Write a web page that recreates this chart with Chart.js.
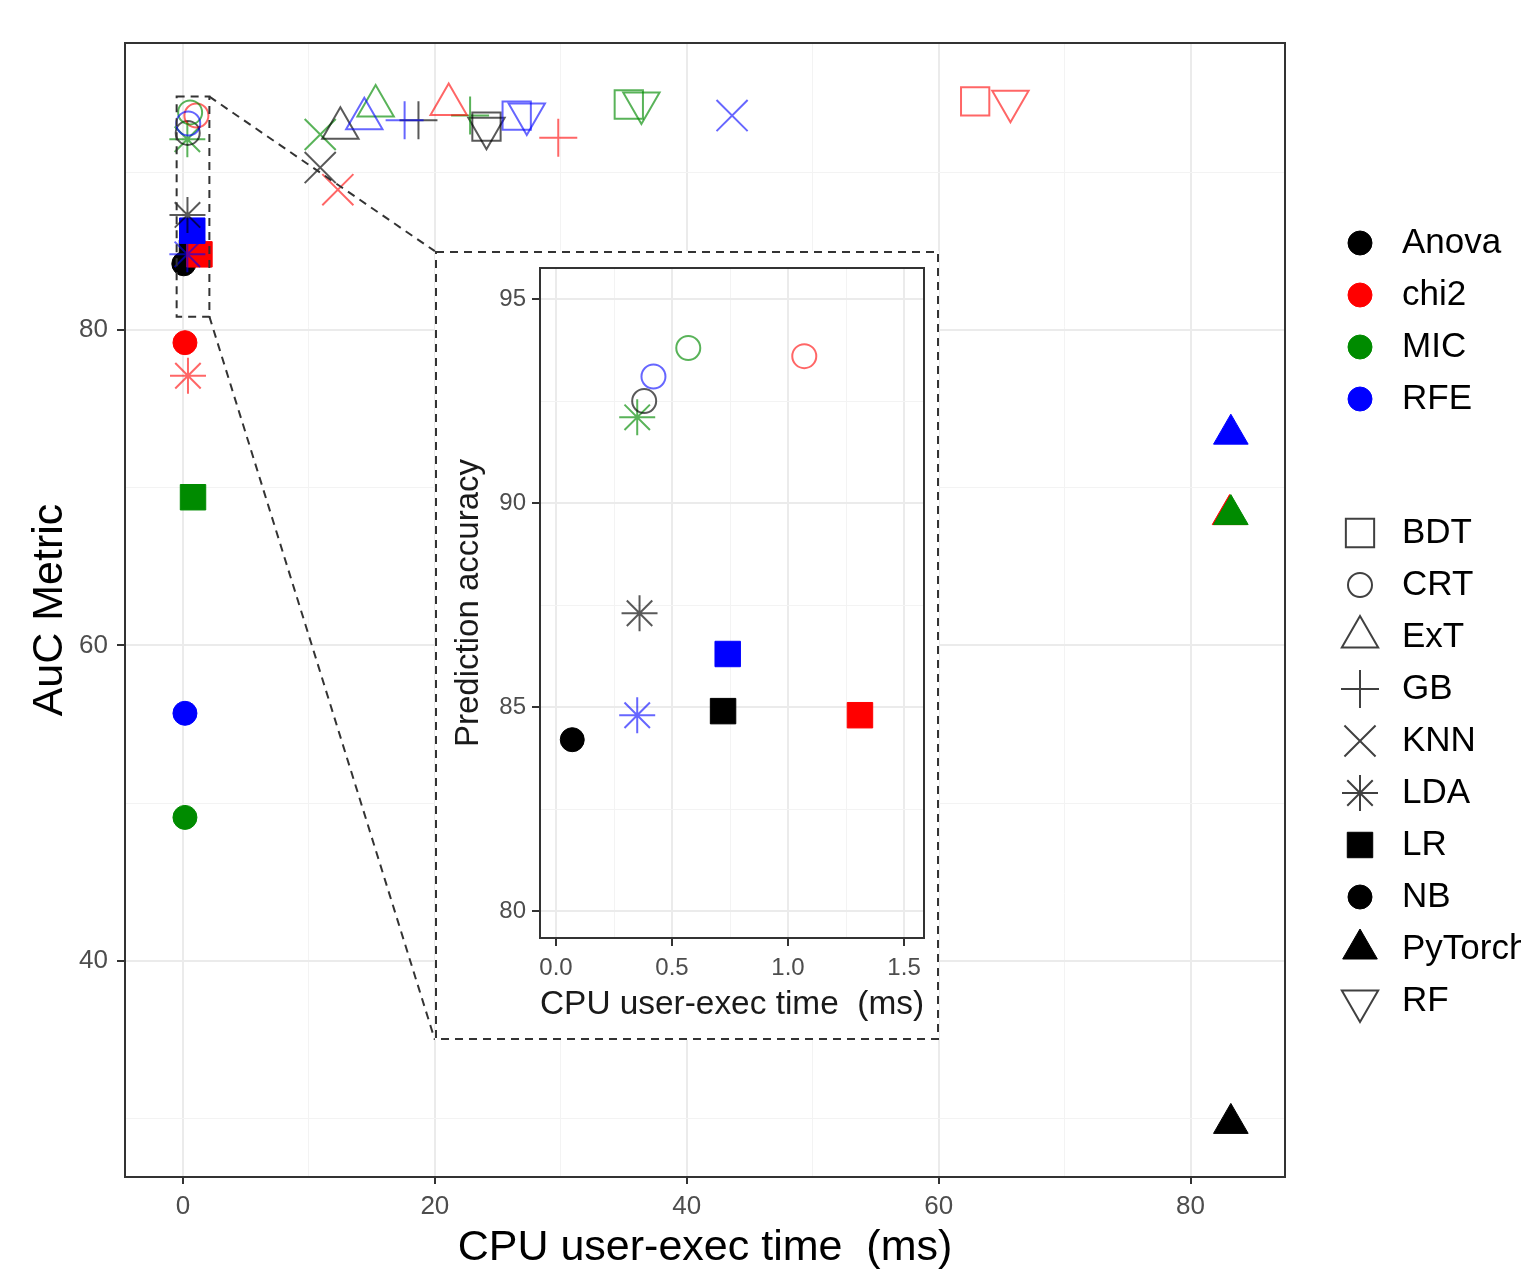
<!DOCTYPE html>
<html>
<head>
<meta charset="utf-8">
<script src="https://cdn.jsdelivr.net/npm/chart.js@4.4.0/dist/chart.umd.min.js"></script>
<style>
  body { margin: 0; background: #fff; }
  #wrap { position: relative; width: 1521px; height: 1270px; overflow: hidden; }
  #insetChart { position: absolute; }
</style>
</head>
<body>
<div id="wrap">
  <canvas id="mainChart" width="1521" height="1270"></canvas>
  <canvas id="insetChart"></canvas>
</div>
<script>
// feature selectors (colour) and models (shape)
const selectors = ['Anova', 'chi2', 'MIC', 'RFE'];
const models = ['BDT', 'CRT', 'ExT', 'GB', 'KNN', 'LDA', 'LR', 'NB', 'PyTorch', 'RF'];

// values per model, in selector order: Anova, chi2, MIC, RFE
const bdtTime = [24.1, 62.9, 35.4, 26.5];
const bdtAuc = [92.9, 94.5, 94.3, 93.6];
const crtTime = [0.38, 1.07, 0.57, 0.42];
const crtAuc = [92.5, 93.6, 93.8, 93.1];
const extTime = [12.5, 21.1, 15.3, 14.4];
const extAuc = [92.8, 94.3, 94.2, 93.4];
const gbTime = [18.7, 29.8, 22.8, 17.6];
const gbAuc = [93.3, 92.2, 93.6, 93.3];
const knnTime = [10.9, 12.3, 10.9, 43.6];
const knnAuc = [90.3, 88.9, 92.4, 93.6];
const ldaTime = [0.36, 0.4, 0.35, 0.35];
const ldaAuc = [87.3, 77.1, 92.1, 84.8];
const lrTime = [0.72, 1.31, 0.8, 0.74];
const lrAuc = [84.9, 84.8, 69.4, 86.3];
const nbTime = [0.07, 0.16, 0.16, 0.16];
const nbAuc = [84.2, 79.2, 49.1, 55.7];
const torchTime = [83.2, 83.1, 83.2, 83.2];
const torchAuc = [29.7, 68.3, 68.3, 73.4];
const rfTime = [24.1, 65.7, 36.4, 27.3];
const rfAuc = [92.8, 94.5, 94.4, 93.7];

const times = [bdtTime, crtTime, extTime, gbTime, knnTime, ldaTime, lrTime, nbTime, torchTime, rfTime];
const aucs = [bdtAuc, crtAuc, extAuc, gbAuc, knnAuc, ldaAuc, lrAuc, nbAuc, torchAuc, rfAuc];

// axis ticks
const mainXTicks = [0, 10, 20, 30, 40, 50, 60, 70, 80];
const mainXLabels = [0, 20, 40, 60, 80];
const mainYTicks = [30, 40, 50, 60, 70, 80, 90];
const mainYLabels = [40, 60, 80];
const insetXTicks = [0, 0.25, 0.5, 0.75, 1, 1.25, 1.5];
const insetXLabels = [0, 0.5, 1, 1.5];
const insetYTicks = [80, 82.5, 85, 87.5, 90, 92.5, 95];
const insetYLabels = [80, 85, 90, 95];

// styles
const selectorColors = ['#000000', '#FF0000', '#008B00', '#0000FF'];
const fadedColors = ['rgba(0,0,0,0.65)', 'rgba(255,0,0,0.6)', 'rgba(0,139,0,0.65)', 'rgba(0,0,255,0.6)'];
const modelStyles = {
  BDT: { pointStyle: 'rect', radius: 20, filled: false },
  CRT: { pointStyle: 'circle', radius: 12, filled: false },
  ExT: { pointStyle: 'triangle', radius: 21, filled: false },
  GB: { pointStyle: 'cross', radius: 19, filled: false },
  KNN: { pointStyle: 'crossRot', radius: 22, filled: false },
  LDA: { pointStyle: 'star', radius: 18, filled: false },
  LR: { pointStyle: 'rect', radius: 18, filled: true },
  NB: { pointStyle: 'circle', radius: 12, filled: true },
  PyTorch: { pointStyle: 'triangle', radius: 20, filled: true },
  RF: { pointStyle: 'triangle', radius: 21, filled: false, rotation: 180 }
};

const FONT = '"Liberation Sans", Arial, sans-serif';
Chart.defaults.font.family = FONT;

const zoomBox = { xMin: -0.5, xMax: 2.1, yMin: 80.85, yMax: 94.8 };
const insetBox = { xMin: 20, xMax: 60, yMin: 35, yMax: 85 };

function makeDatasets(keep) {
  return models.map((m, k) => {
    const st = modelStyles[m];
    const pts = [], border = [], fill = [];
    selectors.forEach((s, i) => {
      const p = { x: times[k][i], y: aucs[k][i] };
      if (keep && !keep(p)) return;
      pts.push(p);
      border.push(st.filled ? selectorColors[i] : fadedColors[i]);
      fill.push(st.filled ? selectorColors[i] : 'rgba(0,0,0,0)');
    });
    return {
      label: m,
      data: pts,
      pointStyle: st.pointStyle,
      pointRadius: st.radius,
      pointHoverRadius: st.radius,
      pointRotation: st.rotation || 0,
      pointBorderWidth: st.filled ? 1 : 2,
      pointBackgroundColor: fill,
      pointBorderColor: border
    };
  });
}

function gridOpts(majors, tickLength) {
  const isMajor = ctx => ctx.tick && majors.includes(ctx.tick.value);
  return {
    color: ctx => isMajor(ctx) ? '#EBEBEB' : '#F3F3F3',
    lineWidth: ctx => isMajor(ctx) ? 2 : 1,
    tickColor: ctx => isMajor(ctx) ? '#333333' : 'rgba(0,0,0,0)',
    tickWidth: 2,
    tickLength: tickLength
  };
}

function panelBorder(chart) {
  const a = chart.chartArea;
  const ctx = chart.ctx;
  ctx.save();
  ctx.strokeStyle = '#333333';
  ctx.lineWidth = 2;
  ctx.strokeRect(a.left, a.top, a.right - a.left, a.bottom - a.top);
  ctx.restore();
}

const mainPlugin = {
  id: 'mainDecor',
  afterDatasetsDraw(chart) {
    panelBorder(chart);
    const ctx = chart.ctx;
    const xs = chart.scales.x, ys = chart.scales.y;
    const zl = xs.getPixelForValue(zoomBox.xMin), zr = xs.getPixelForValue(zoomBox.xMax);
    const zt = ys.getPixelForValue(zoomBox.yMax), zb = ys.getPixelForValue(zoomBox.yMin);
    const il = xs.getPixelForValue(insetBox.xMin);
    const it = ys.getPixelForValue(insetBox.yMax), ib = ys.getPixelForValue(insetBox.yMin);
    ctx.save();
    ctx.strokeStyle = '#333333';
    ctx.lineWidth = 2;
    ctx.setLineDash([8, 6]);
    ctx.strokeRect(zl, zt, zr - zl, zb - zt);
    ctx.beginPath();
    ctx.moveTo(zr, zt); ctx.lineTo(il, it);
    ctx.moveTo(zr, zb); ctx.lineTo(il, ib);
    ctx.stroke();
    ctx.restore();
  },
  afterDraw(chart) {
    const ctx = chart.ctx;
    ctx.save();
    ctx.font = '35px ' + FONT;
    ctx.textBaseline = 'middle';
    ctx.textAlign = 'left';
    selectors.forEach((s, i) => {
      const y = 243 + i * 52;
      ctx.fillStyle = selectorColors[i];
      ctx.strokeStyle = selectorColors[i];
      ctx.lineWidth = 1;
      Chart.helpers.drawPoint(ctx, { pointStyle: 'circle', radius: 12, borderWidth: 1, rotation: 0 }, 1360, y);
      ctx.fillStyle = '#000';
      ctx.fillText(s, 1402, y);
    });
    models.forEach((m, i) => {
      const y = 533 + i * 52;
      const st = modelStyles[m];
      ctx.fillStyle = st.filled ? '#000' : 'rgba(0,0,0,0)';
      ctx.strokeStyle = st.filled ? '#000' : 'rgba(0,0,0,0.75)';
      ctx.lineWidth = st.filled ? 1 : 2;
      Chart.helpers.drawPoint(ctx, { pointStyle: st.pointStyle, radius: st.radius, borderWidth: ctx.lineWidth, rotation: st.rotation || 0 }, 1360, y);
      ctx.fillStyle = '#000';
      ctx.fillText(m, 1402, y);
    });
    ctx.restore();
  }
};

const mainChart = new Chart(document.getElementById('mainChart'), {
  type: 'scatter',
  data: { datasets: makeDatasets(null) },
  options: {
    responsive: false,
    animation: false,
    events: [],
    layout: { autoPadding: false, padding: { left: 0, top: 43, right: 236, bottom: 0 } },
    plugins: { legend: { display: false }, tooltip: { enabled: false } },
    scales: {
      x: {
        type: 'linear',
        min: -4.6,
        max: 87.5,
        bounds: 'data',
        afterBuildTicks: axis => { axis.ticks = mainXTicks.map(v => ({ value: v })); },
        afterFit: scale => { scale.height = 93; },
        ticks: {
          autoSkip: false,
          maxRotation: 0,
          padding: 7,
          color: '#4D4D4D',
          font: { size: 26 },
          callback: v => mainXLabels.includes(v) ? String(v) : ''
        },
        grid: gridOpts(mainXLabels, 7),
        border: { display: false },
        title: {
          display: true,
          text: 'CPU user-exec time  (ms)',
          color: '#000',
          font: { size: 43, lineHeight: 1.0 },
          padding: { top: 0, bottom: 0 }
        }
      },
      y: {
        type: 'linear',
        min: 26.3,
        max: 98.2,
        bounds: 'data',
        afterBuildTicks: axis => { axis.ticks = mainYTicks.map(v => ({ value: v })); },
        afterFit: scale => { scale.width = 125; },
        ticks: {
          autoSkip: false,
          padding: 9,
          color: '#4D4D4D',
          font: { size: 26 },
          callback: v => mainYLabels.includes(v) ? String(v) : ''
        },
        grid: gridOpts(mainYLabels, 8),
        border: { display: false },
        title: {
          display: true,
          text: 'AuC Metric',
          color: '#000',
          font: { size: 43, lineHeight: 1.2 },
          padding: { top: 24, bottom: 0 }
        }
      }
    }
  },
  plugins: [mainPlugin]
});

// inset placed over the main panel at the data rectangle insetBox
const mx = mainChart.scales.x, my = mainChart.scales.y;
const boxLeft = Math.round(mx.getPixelForValue(insetBox.xMin));
const boxRight = Math.round(mx.getPixelForValue(insetBox.xMax));
const boxTop = Math.round(my.getPixelForValue(insetBox.yMax));
const boxBottom = Math.round(my.getPixelForValue(insetBox.yMin));
const insetCanvas = document.getElementById('insetChart');
insetCanvas.width = boxRight - boxLeft;
insetCanvas.height = boxBottom - boxTop;
insetCanvas.style.left = boxLeft + 'px';
insetCanvas.style.top = boxTop + 'px';

const insetX = { min: -0.069, max: 1.586 };
const insetY = { min: 79.34, max: 95.76 };

const insetPlugin = {
  id: 'insetDecor',
  beforeDraw(chart) {
    const ctx = chart.ctx;
    ctx.save();
    ctx.fillStyle = '#fff';
    ctx.fillRect(0, 0, chart.width, chart.height);
    ctx.restore();
  },
  afterDatasetsDraw(chart) {
    panelBorder(chart);
  },
  afterDraw(chart) {
    const ctx = chart.ctx;
    ctx.save();
    ctx.strokeStyle = '#333333';
    ctx.lineWidth = 2;
    ctx.setLineDash([8, 6]);
    ctx.strokeRect(1, 1, chart.width - 2, chart.height - 2);
    ctx.restore();
  }
};

const insetChart = new Chart(insetCanvas, {
  type: 'scatter',
  data: {
    datasets: makeDatasets(p => p.x >= insetX.min && p.x <= insetX.max && p.y >= insetY.min && p.y <= insetY.max)
  },
  options: {
    responsive: false,
    animation: false,
    events: [],
    layout: { autoPadding: false, padding: { left: 0, top: 17, right: 15, bottom: 0 } },
    plugins: { legend: { display: false }, tooltip: { enabled: false } },
    scales: {
      x: {
        type: 'linear',
        min: insetX.min,
        max: insetX.max,
        bounds: 'data',
        afterBuildTicks: axis => { axis.ticks = insetXTicks.map(v => ({ value: v })); },
        afterFit: scale => { scale.height = 102; scale.paddingLeft = 0; scale.paddingRight = 0; },
        ticks: {
          autoSkip: false,
          maxRotation: 0,
          padding: 8,
          color: '#4D4D4D',
          font: { size: 24 },
          callback: v => insetXLabels.includes(v) ? v.toFixed(1) : ''
        },
        grid: gridOpts(insetXLabels, 8),
        border: { display: false },
        title: {
          display: true,
          text: 'CPU user-exec time  (ms)',
          color: '#1a1a1a',
          font: { size: 34, lineHeight: 1.2 },
          padding: { top: 0, bottom: 15 }
        }
      },
      y: {
        type: 'linear',
        min: insetY.min,
        max: insetY.max,
        bounds: 'data',
        afterBuildTicks: axis => { axis.ticks = insetYTicks.map(v => ({ value: v })); },
        afterFit: scale => { scale.width = 105; scale.paddingTop = 0; scale.paddingBottom = 0; },
        ticks: {
          autoSkip: false,
          padding: 6,
          color: '#4D4D4D',
          font: { size: 24 },
          callback: v => insetYLabels.includes(v) ? String(v) : ''
        },
        grid: gridOpts(insetYLabels, 8),
        border: { display: false },
        title: {
          display: true,
          text: 'Prediction accuracy',
          color: '#1a1a1a',
          font: { size: 33, lineHeight: 1.2 },
          padding: { top: 14, bottom: 0 }
        }
      }
    }
  },
  plugins: [insetPlugin]
});
</script>
</body>
</html>
